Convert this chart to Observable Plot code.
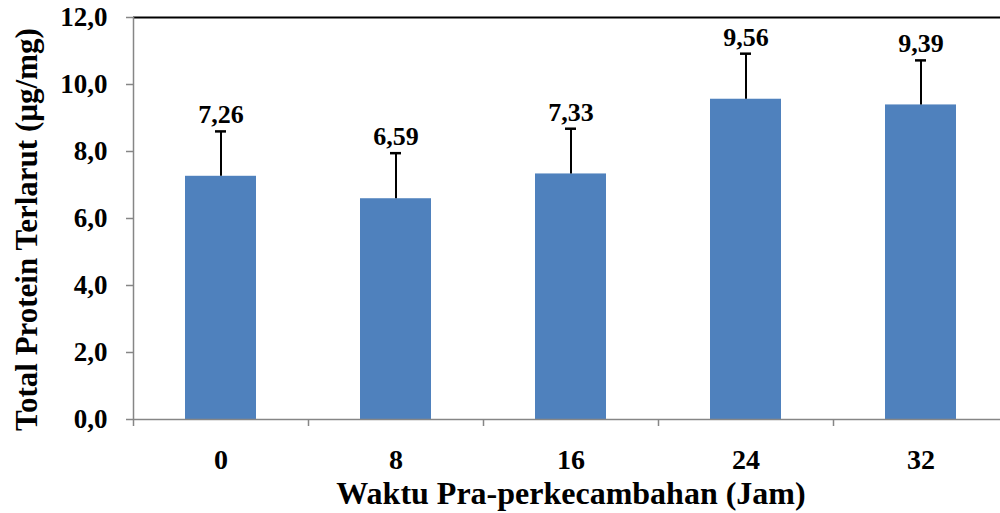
<!DOCTYPE html>
<html>
<head>
<meta charset="utf-8">
<script src="https://cdn.jsdelivr.net/npm/d3@7"></script>
<script src="https://cdn.jsdelivr.net/npm/@observablehq/plot@0.6"></script>
<style>
  html, body { margin: 0; padding: 0; background: #fff; overflow: hidden; }
</style>
</head>
<body>
<div id="chart"></div>
<script>
// Waktu pra-perkecambahan (jam) and the measured soluble protein
const jam = ["0", "8", "16", "24", "32"];
const rerata = [7.26, 6.59, 7.33, 9.56, 9.39];   // µg/mg
const sd = [1.34, 1.36, 1.35, 1.36, 1.33];       // standard deviation (upper bar)
const yTicks = [0, 2, 4, 6, 8, 10, 12];

const data = jam.map((j, i) => ({ jam: j, mean: rerata[i], top: rerata[i] + sd[i] }));

const W = 1000, H = 513;
const mL = 133, mR = -8, mT = 17, mB = 94;
const halfStep = (W - mR - mL) / jam.length / 2;

const koma = (v, n) => v.toFixed(n).replace(".", ",");
const axisGrey = "#868686";

const chart = Plot.plot({
  width: W,
  height: H,
  marginLeft: mL,
  marginRight: mR,
  marginTop: mT,
  marginBottom: mB,
  style: {
    fontFamily: "'Liberation Serif', 'Times New Roman', serif",
    fontWeight: "bold",
    fontSize: "27px",
    color: "#000",
    background: "#fff",
    overflow: "visible"
  },
  x: { domain: jam, paddingInner: 0.594, paddingOuter: 0.297, axis: null },
  y: { domain: [0, 12], axis: null },
  marks: [
    // chart border on top
    Plot.ruleY([12], { stroke: "#000", strokeWidth: 2 }),
    // bars
    Plot.barY(data, { x: "jam", y: "mean", fill: "#4F81BD" }),
    // error bars (upper only)
    Plot.ruleX(data, { x: "jam", y1: "mean", y2: "top", stroke: "#000", strokeWidth: 2 }),
    Plot.tickY(data, { x: "jam", y: "top", stroke: "#000", strokeWidth: 2.5, insetLeft: 30, insetRight: 30 }),
    // value labels
    Plot.text(data, {
      x: "jam", y: "top", text: d => koma(d.mean, 2),
      lineAnchor: "bottom", dy: -8, fontSize: 26, fill: "#000"
    }),
    // y axis line, ticks and labels
    Plot.ruleX(["0"], { x: d => d, dx: -halfStep, stroke: axisGrey, strokeWidth: 1.5 }),
    Plot.axisY({
      ticks: yTicks, tickFormat: d => koma(d, 1), tickSize: 7, tickPadding: 19,
      stroke: axisGrey, strokeWidth: 1.5, label: null, fontSize: 27
    }),
    // x axis line, boundary ticks and labels
    Plot.ruleY([0], { stroke: axisGrey, strokeWidth: 1.5 }),
    Plot.ruleX(jam, { x: d => d, y1: 0, y2: 0, insetBottom: -7, dx: -halfStep, stroke: axisGrey, strokeWidth: 1.5 }),
    Plot.axisX({ tickSize: 0, tickPadding: 30, label: null, fontSize: 28 }),
    // axis titles
    Plot.text(["Waktu Pra-perkecambahan (Jam)"], {
      frameAnchor: "bottom", textAnchor: "middle", lineAnchor: "middle", dy: 74, fontSize: 32, fill: "#000"
    }),
    Plot.text(["Total Protein Terlarut (µg/mg)"], {
      frameAnchor: "left", textAnchor: "middle", lineAnchor: "middle", rotate: -90, dx: -106, dy: 11, fontSize: 31, fill: "#000"
    })
  ]
});

document.getElementById("chart").append(chart);
</script>
</body>
</html>
